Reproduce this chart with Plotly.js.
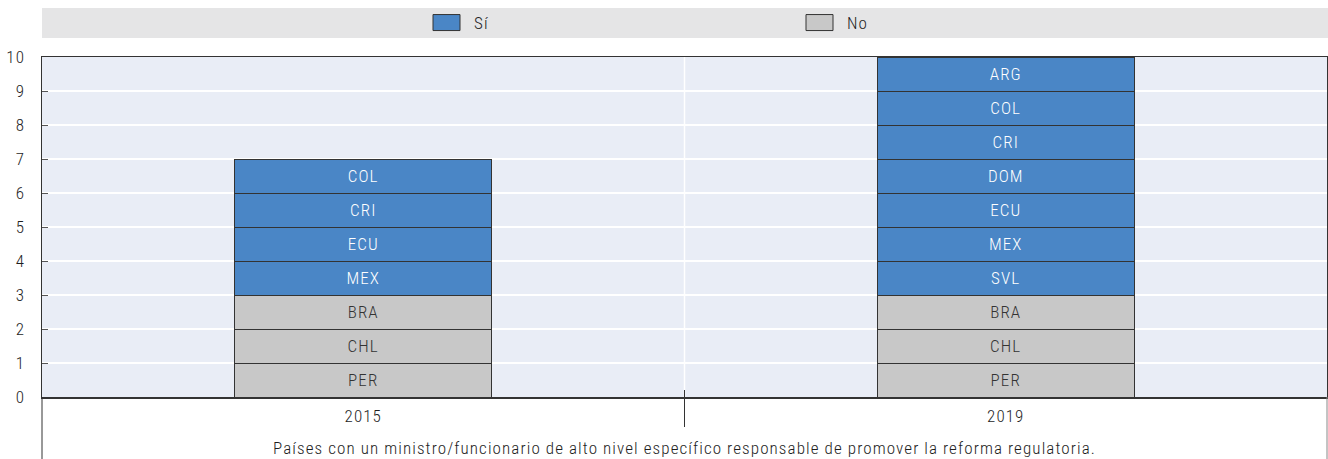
<!DOCTYPE html>
<html>
<head>
<meta charset="utf-8">
<script src="https://cdn.plot.ly/plotly-3.0.1.min.js"></script>
<style>
html,body{margin:0;padding:0;background:#fff;}
#chart{width:1328px;height:459px;}
#chart text{letter-spacing:1.1px;}
</style>
</head>
<body>
<div id="chart"></div>
<script>
// Data
const categories = ['2015', '2019'];
const no2015 = ['PER', 'CHL', 'BRA'];
const si2015 = ['MEX', 'ECU', 'CRI', 'COL'];
const no2019 = ['PER', 'CHL', 'BRA'];
const si2019 = ['SVL', 'MEX', 'ECU', 'DOM', 'CRI', 'COL', 'ARG'];
const seriesNames = ['Sí', 'No'];
const yTicks = [0, 1, 2, 3, 4, 5, 6, 7, 8, 9, 10];
const caption = 'Países con un ministro/funcionario de alto nivel específico responsable de promover la reforma regulatoria.';

const FONT = '"Roboto Condensed", "Arial Narrow", sans-serif';
const FS = 17;
const FW = 350;
const BLUE = '#4a86c6';
const GREY = '#c8c8c8';
const TXT = '#1e1e1e';

const traces = [];
function addStack(cat, list, series, color, textColor) {
  list.forEach((code) => {
    traces.push({
      type: 'bar',
      x: [cat],
      y: [1],
      text: [code],
      name: series,
      legendgroup: series,
      legendrank: series === seriesNames[0] ? 1 : 2,
      showlegend: false,
      marker: {color: color, line: {color: '#333333', width: 1}},
      textposition: 'inside',
      insidetextanchor: 'middle',
      textangle: 0,
      constraintext: 'none',
      textfont: {family: FONT, size: FS, color: textColor, weight: FW},
      hoverinfo: 'x+text',
      width: 0.4
    });
  });
}
addStack(categories[0], no2015, seriesNames[1], GREY, '#333333');
addStack(categories[0], si2015, seriesNames[0], BLUE, '#ffffff');
addStack(categories[1], no2019, seriesNames[1], GREY, '#333333');
addStack(categories[1], si2019, seriesNames[0], BLUE, '#ffffff');

let shownSi = false, shownNo = false;
traces.forEach(t => {
  if (t.name === seriesNames[0] && !shownSi) { t.showlegend = true; shownSi = true; }
  if (t.name === seriesNames[1] && !shownNo) { t.showlegend = true; shownNo = true; }
});

const plotH = 340;
const layout = {
  width: 1328,
  height: 459,
  margin: {l: 42, r: 1, t: 57, b: 62, pad: 0},
  paper_bgcolor: '#ffffff',
  plot_bgcolor: '#e9edf6',
  barmode: 'stack',
  font: {family: FONT, size: FS, color: TXT, weight: FW},
  showlegend: true,
  legend: {
    orientation: 'h',
    x: (419 - 42) / 1285,
    xanchor: 'left',
    y: (397 - 23) / plotH,
    yanchor: 'middle',
    bgcolor: 'rgba(0,0,0,0)',
    itemwidth: 45,
    entrywidth: 313,
    entrywidthmode: 'pixels',
    traceorder: 'normal',
    font: {family: FONT, size: FS, color: TXT, weight: FW},
    itemclick: false,
    itemdoubleclick: false
  },
  xaxis: {
    type: 'category',
    showline: true,
    linecolor: '#333333',
    linewidth: 1.5,
    mirror: true,
    showgrid: false,
    ticks: '',
    ticklabelstandoff: 3,
    tickfont: {family: FONT, size: FS, color: TXT, weight: FW},
    fixedrange: true,
    title: {text: caption, font: {family: FONT, size: FS, color: TXT, weight: FW}, standoff: 17}
  },
  yaxis: {
    range: [0, 10],
    tickvals: yTicks,
    ticktext: yTicks.map(String),
    showline: true,
    linecolor: '#333333',
    linewidth: 1.5,
    mirror: true,
    showgrid: true,
    gridcolor: '#ffffff',
    gridwidth: 1.5,
    zeroline: false,
    ticks: 'inside',
    ticklen: 6,
    tickcolor: '#555555',
    tickfont: {family: FONT, size: FS, color: TXT, weight: FW},
    ticklabelstandoff: 12,
    fixedrange: true
  },
  shapes: [
    {type: 'rect', xref: 'paper', yref: 'paper', x0: 0, x1: 1.001, y0: (397 - 38) / plotH, y1: (397 - 8) / plotH,
      fillcolor: '#e5e5e6', line: {width: 0}, layer: 'below'},
    {type: 'line', xref: 'paper', yref: 'paper', x0: 0.5, x1: 0.5, y0: 0, y1: 1,
      line: {color: '#ffffff', width: 1.5}, layer: 'below'},
    {type: 'line', xref: 'paper', yref: 'paper', x0: 0.5, x1: 0.5, y0: 7 / plotH, y1: -30 / plotH,
      line: {color: '#333333', width: 1}},
    {type: 'line', xref: 'paper', yref: 'paper', x0: 0, x1: 0, y0: 0, y1: -62 / plotH,
      line: {color: '#333333', width: 1}},
    {type: 'line', xref: 'paper', yref: 'paper', x0: 1, x1: 1, y0: 0, y1: -62 / plotH,
      line: {color: '#888888', width: 1}}
  ]
};

function enlargeLegendSwatches() {
  document.querySelectorAll('#chart .legendpoints path').forEach(p => {
    p.setAttribute('d', 'M13.5,8H-13.5V-8H13.5Z');
  });
}

Plotly.newPlot('chart', traces, layout, {displayModeBar: false, staticPlot: true}).then(enlargeLegendSwatches);
</script>
</body>
</html>
